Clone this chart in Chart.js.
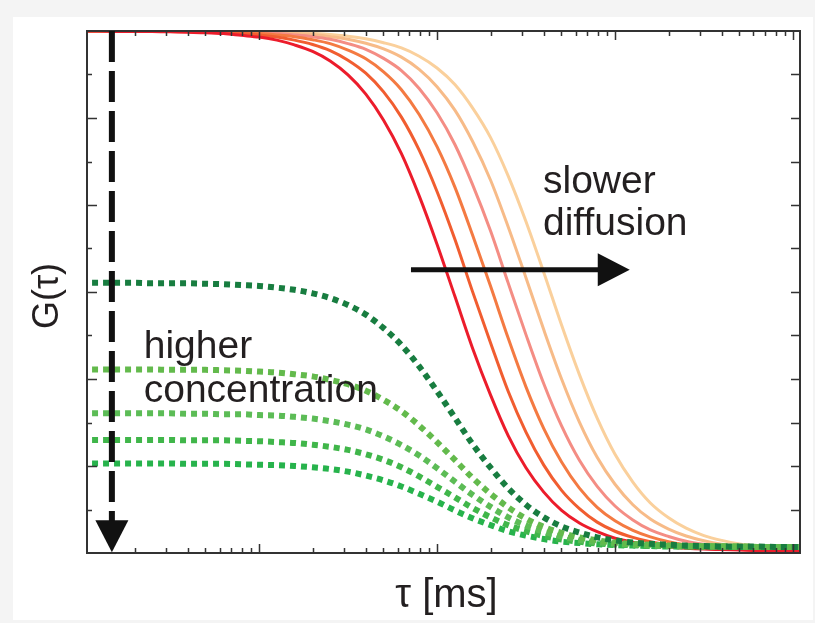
<!DOCTYPE html>
<html>
<head>
<meta charset="utf-8">
<script src="https://cdn.jsdelivr.net/npm/chart.js@4"></script>
<style>
  html, body { margin: 0; padding: 0; background: #f4f4f4; }
</style>
</head>
<body>
<canvas id="myChart" width="815" height="623"></canvas>
<script>
// lag time tau [ms], shared by every curve
const tau = [0.001, 0.00126, 0.00158, 0.002, 0.00251, 0.00316, 0.00398, 0.00501, 0.00631, 0.00794,
             0.01, 0.0126, 0.0158, 0.02, 0.0251, 0.0316, 0.0398, 0.0501, 0.0631, 0.0794,
             0.1, 0.126, 0.158, 0.2, 0.251, 0.316, 0.398, 0.501, 0.631, 0.794,
             1, 1.26, 1.58, 2, 2.51, 3.16, 3.98, 5.01, 6.31, 7.94, 10, 12.6];

// solid curves: slower and slower diffusion
const diff0 = [1.200, 1.200, 1.199, 1.199, 1.199, 1.198, 1.197, 1.196, 1.194, 1.190, 1.186, 1.179, 1.168, 1.153, 1.131, 1.099, 1.055, 0.995, 0.918, 0.821, 0.710, 0.590, 0.472, 0.363, 0.270, 0.196, 0.140, 0.098, 0.069, 0.049, 0.034, 0.025, 0.018, 0.014, 0.011, 0.009, 0.008, 0.007, 0.006, 0.006, 0.005, 0.005];
const diff1 = [1.200, 1.200, 1.200, 1.200, 1.199, 1.199, 1.198, 1.197, 1.196, 1.194, 1.191, 1.186, 1.179, 1.169, 1.155, 1.133, 1.103, 1.060, 1.002, 0.926, 0.831, 0.721, 0.602, 0.483, 0.372, 0.278, 0.202, 0.144, 0.102, 0.071, 0.050, 0.036, 0.026, 0.019, 0.014, 0.011, 0.009, 0.008, 0.007, 0.006, 0.006, 0.006];
const diff2 = [1.200, 1.200, 1.200, 1.200, 1.199, 1.199, 1.199, 1.198, 1.197, 1.196, 1.194, 1.191, 1.187, 1.180, 1.171, 1.156, 1.136, 1.106, 1.065, 1.008, 0.934, 0.841, 0.732, 0.613, 0.494, 0.382, 0.286, 0.209, 0.149, 0.105, 0.074, 0.052, 0.037, 0.026, 0.019, 0.015, 0.011, 0.009, 0.008, 0.007, 0.006, 0.006];
const diff3 = [1.200, 1.200, 1.200, 1.200, 1.200, 1.199, 1.199, 1.199, 1.198, 1.197, 1.196, 1.194, 1.191, 1.187, 1.181, 1.171, 1.158, 1.137, 1.109, 1.068, 1.012, 0.939, 0.848, 0.740, 0.621, 0.502, 0.389, 0.292, 0.213, 0.153, 0.108, 0.076, 0.053, 0.038, 0.027, 0.020, 0.015, 0.012, 0.009, 0.008, 0.007, 0.006];
const diff4 = [1.200, 1.200, 1.200, 1.200, 1.200, 1.200, 1.199, 1.199, 1.199, 1.198, 1.197, 1.196, 1.194, 1.192, 1.187, 1.181, 1.172, 1.159, 1.140, 1.112, 1.072, 1.018, 0.947, 0.857, 0.750, 0.633, 0.513, 0.400, 0.301, 0.220, 0.158, 0.111, 0.078, 0.055, 0.039, 0.028, 0.020, 0.015, 0.012, 0.010, 0.008, 0.007];
const diff5 = [1.200, 1.200, 1.200, 1.200, 1.200, 1.200, 1.200, 1.199, 1.199, 1.199, 1.198, 1.198, 1.196, 1.195, 1.192, 1.188, 1.182, 1.173, 1.161, 1.142, 1.115, 1.077, 1.024, 0.955, 0.867, 0.762, 0.645, 0.524, 0.410, 0.310, 0.227, 0.163, 0.115, 0.081, 0.057, 0.040, 0.029, 0.021, 0.016, 0.012, 0.010, 0.008];

// dotted curves: higher and higher concentration
const conc0 = [0.621, 0.621, 0.621, 0.621, 0.620, 0.620, 0.620, 0.619, 0.618, 0.616, 0.614, 0.610, 0.605, 0.597, 0.586, 0.570, 0.548, 0.517, 0.478, 0.429, 0.372, 0.311, 0.251, 0.196, 0.149, 0.111, 0.082, 0.061, 0.047, 0.036, 0.029, 0.024, 0.021, 0.019, 0.017, 0.016, 0.015, 0.015, 0.015, 0.014, 0.014, 0.014];
const conc1 = [0.422, 0.422, 0.422, 0.422, 0.422, 0.421, 0.421, 0.421, 0.420, 0.419, 0.417, 0.415, 0.411, 0.406, 0.398, 0.388, 0.373, 0.352, 0.326, 0.293, 0.255, 0.214, 0.173, 0.136, 0.105, 0.079, 0.060, 0.046, 0.036, 0.029, 0.024, 0.021, 0.019, 0.017, 0.016, 0.015, 0.015, 0.015, 0.014, 0.014, 0.014, 0.014];
const conc2 = [0.321, 0.321, 0.321, 0.321, 0.321, 0.321, 0.320, 0.320, 0.319, 0.319, 0.317, 0.316, 0.313, 0.309, 0.303, 0.295, 0.284, 0.268, 0.248, 0.224, 0.195, 0.164, 0.134, 0.106, 0.082, 0.063, 0.049, 0.038, 0.030, 0.025, 0.022, 0.019, 0.017, 0.016, 0.016, 0.015, 0.015, 0.015, 0.014, 0.014, 0.014, 0.014];
const conc3 = [0.260, 0.260, 0.260, 0.260, 0.260, 0.260, 0.259, 0.259, 0.259, 0.258, 0.257, 0.255, 0.253, 0.249, 0.244, 0.237, 0.227, 0.214, 0.197, 0.176, 0.152, 0.128, 0.104, 0.082, 0.064, 0.050, 0.039, 0.031, 0.026, 0.022, 0.019, 0.018, 0.016, 0.016, 0.015, 0.015, 0.015, 0.014, 0.014, 0.014, 0.014, 0.014];
const conc4 = [0.206, 0.206, 0.206, 0.206, 0.206, 0.206, 0.205, 0.205, 0.205, 0.204, 0.203, 0.202, 0.200, 0.197, 0.193, 0.187, 0.178, 0.167, 0.153, 0.136, 0.118, 0.098, 0.080, 0.064, 0.050, 0.040, 0.032, 0.026, 0.023, 0.020, 0.018, 0.017, 0.016, 0.015, 0.015, 0.015, 0.014, 0.014, 0.014, 0.014, 0.014, 0.014];

const diffSeries = [diff0, diff1, diff2, diff3, diff4, diff5];
const diffColors = ['#ec1c2b', '#f15d30', '#f47a42', '#f48d84', '#f7bb88', '#fad09c'];
const concSeries = [conc0, conc1, conc2, conc3, conc4];
const concColors = ['#187d40', '#63ba4c', '#5cbc56', '#40b64a', '#27b34c'];

const xMin = 0.00108, xMax = 10.95;
const yMin = 0, yMax = 1.2;

// annotation positions in data units
const concArrow = { x: 0.00149, yFrom: 1.2, yTo: 0.002 };
const diffArrow = { xFrom: 0.0714, xTo: 1.21, y: 0.651 };
const textFont = '39px "Liberation Sans", Arial, sans-serif';
const textColor = '#231f20';

function toPoints(vals) {
    return tau.map((t, i) => ({ x: t, y: vals[i] }));
}

const datasets = [];
concSeries.forEach((s, i) => {
    datasets.push({
        data: toPoints(s),
        borderColor: concColors[i],
        borderWidth: 6,
        borderDash: [6, 5],
        borderCapStyle: 'butt',
        pointRadius: 0,
        cubicInterpolationMode: 'monotone',
        clip: 0
    });
});
diffSeries.forEach((s, i) => {
    datasets.push({
        data: toPoints(s),
        borderColor: diffColors[i],
        borderWidth: 3,
        pointRadius: 0,
        cubicInterpolationMode: 'monotone',
        clip: 0
    });
});

const decor = {
    id: 'decor',
    beforeDraw(chart) {
        const c = chart.ctx;
        c.save();
        c.fillStyle = '#f4f4f4';
        c.fillRect(0, 0, chart.width, chart.height);
        c.fillStyle = '#ffffff';
        c.fillRect(13, 17, chart.width - 15, chart.height - 20);
        c.restore();
    },
    afterDatasetsDraw(chart) {
        const c = chart.ctx;
        const a = chart.chartArea;
        const xs = chart.scales.x, ys = chart.scales.y;
        c.save();

        // ticks pointing inward
        c.strokeStyle = '#333';
        c.lineWidth = 1.5;
        c.beginPath();
        for (let e = -3; e <= 1; e++) {
            for (let k = 1; k <= 9; k++) {
                const v = k * Math.pow(10, e);
                if (v < xMin || v > xMax) continue;
                const px = Math.round(xs.getPixelForValue(v)) + 0.5;
                const len = k === 1 ? 9 : 5;
                c.moveTo(px, a.bottom); c.lineTo(px, a.bottom - len);
                c.moveTo(px, a.top); c.lineTo(px, a.top + len);
            }
        }
        for (let i = 1; i <= 11; i++) {
            const py = Math.round(ys.getPixelForValue(i * 0.1)) + 0.5;
            const len = i % 2 === 0 ? 10 : 5;
            c.moveTo(a.left, py); c.lineTo(a.left + len, py);
            c.moveTo(a.right, py); c.lineTo(a.right - 9, py);
        }
        c.stroke();

        // frame
        c.lineWidth = 2;
        c.strokeRect(a.left, a.top, a.right - a.left, a.bottom - a.top);

        // dashed arrow: higher concentration
        c.strokeStyle = '#111';
        c.fillStyle = '#111';
        const vx = xs.getPixelForValue(concArrow.x);
        const vTop = ys.getPixelForValue(concArrow.yFrom);
        const vTip = ys.getPixelForValue(concArrow.yTo);
        c.lineWidth = 6;
        c.setLineDash([31, 9]);
        c.beginPath();
        c.moveTo(vx, vTop);
        c.lineTo(vx, vTip - 30);
        c.stroke();
        c.setLineDash([]);
        c.beginPath();
        c.moveTo(vx - 16.5, vTip - 32);
        c.lineTo(vx + 16.5, vTip - 32);
        c.lineTo(vx, vTip);
        c.closePath();
        c.fill();

        // solid arrow: slower diffusion
        const hy = ys.getPixelForValue(diffArrow.y);
        const hx0 = xs.getPixelForValue(diffArrow.xFrom);
        const hTip = xs.getPixelForValue(diffArrow.xTo);
        c.lineWidth = 5;
        c.beginPath();
        c.moveTo(hx0, hy);
        c.lineTo(hTip - 28, hy);
        c.stroke();
        c.beginPath();
        c.moveTo(hTip - 32, hy - 16.5);
        c.lineTo(hTip - 32, hy + 16.5);
        c.lineTo(hTip, hy);
        c.closePath();
        c.fill();

        // labels
        c.font = textFont;
        c.fillStyle = textColor;
        c.textAlign = 'left';
        c.textBaseline = 'alphabetic';
        c.fillText('slower', xs.getPixelForValue(0.394), ys.getPixelForValue(0.828));
        c.fillText('diffusion', xs.getPixelForValue(0.394), ys.getPixelForValue(0.731));
        c.fillText('higher', xs.getPixelForValue(0.00225), ys.getPixelForValue(0.448));
        c.fillText('concentration', xs.getPixelForValue(0.00225), ys.getPixelForValue(0.348));

        // axis titles
        c.textAlign = 'center';
        c.font = '40px "Liberation Sans", Arial, sans-serif';
        c.fillText('τ [ms]', (a.left + a.right) / 2 + 3, 607);
        c.translate(58, 296);
        c.rotate(-Math.PI / 2);
        c.font = '36px "Liberation Sans", Arial, sans-serif';
        c.fillText('G(τ)', 0, 0);
        c.restore();
    }
};

const ctx = document.getElementById('myChart').getContext('2d');
const myChart = new Chart(ctx, {
    type: 'line',
    data: { datasets: datasets },
    options: {
        responsive: false,
        animation: false,
        layout: { padding: { left: 87, right: 15, top: 31, bottom: 70 } },
        plugins: { legend: { display: false }, tooltip: { enabled: false } },
        scales: {
            x: { type: 'logarithmic', min: xMin, max: xMax, display: false },
            y: { type: 'linear', min: yMin, max: yMax, display: false }
        }
    },
    plugins: [decor]
});
</script>
</body>
</html>
